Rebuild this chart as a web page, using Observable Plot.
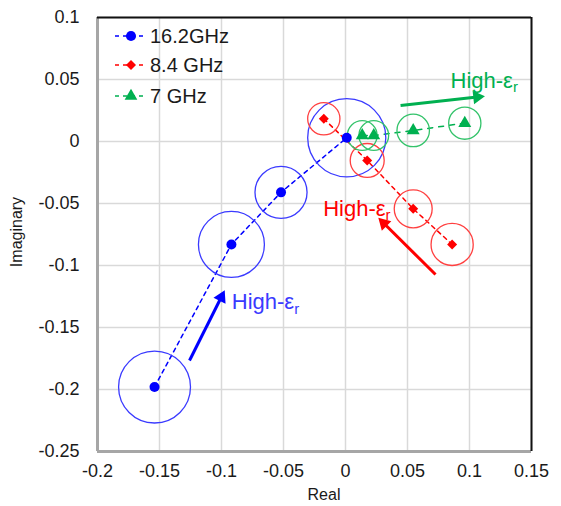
<!DOCTYPE html>
<html>
<head>
<meta charset="utf-8">
<script src="https://cdn.jsdelivr.net/npm/d3@7"></script>
<script src="https://cdn.jsdelivr.net/npm/@observablehq/plot@0.6"></script>
<style>
  body { margin: 0; background: #fff; }
  #chart { position: relative; width: 561px; height: 506px; }
</style>
</head>
<body>
<div id="chart"></div>
<script>
// ---- Data ----
const xTicks = [-0.2, -0.15, -0.1, -0.05, 0, 0.05, 0.1, 0.15];
const xTickLabels = ["-0.2", "-0.15", "-0.1", "-0.05", "0", "0.05", "0.1", "0.15"];
const yTicks = [0.1, 0.05, 0, -0.05, -0.1, -0.15, -0.2, -0.25];
const yTickLabels = ["0.1", "0.05", "0", "-0.05", "-0.1", "-0.15", "-0.2", "-0.25"];

const seriesNames = ["16.2GHz", "8.4 GHz", "7 GHz"];

const blueRe  = [-0.154, -0.092, -0.052, 0.001];
const blueIm  = [-0.198, -0.083, -0.041, 0.003];
const blueUnc = [0.029, 0.0266, 0.021, 0.0315];

const redRe  = [-0.0175, 0.0175, 0.0546, 0.086];
const redIm  = [0.0183, -0.0153, -0.0543, -0.083];
const redUnc = [0.013, 0.0137, 0.0153, 0.017];

const greenRe  = [0.0135, 0.0228, 0.0546, 0.0962];
const greenIm  = [0.0048, 0.0048, 0.0089, 0.0148];
const greenUnc = [0.012, 0.012, 0.0131, 0.013];

// annotation arrows (blue, red, green)
const arrowX1 = [-0.1258, 0.0726, 0.0444];
const arrowY1 = [-0.1766, -0.1073, 0.029];
const arrowX2 = [-0.1002, 0.0309, 0.1062];
const arrowY2 = [-0.1256, -0.0659, 0.0358];
const labelX  = [-0.0917, -0.018, 0.0847];
const labelY  = [-0.1296, -0.054, 0.0492];
const labelText = ["High-ε", "High-ε", "High-ε"];

// ---- Styles ----
const markerColors = ["#0000ff", "#ff0000", "#00b050"];
const circleColors = ["#3a3aff", "#ff4040", "#33c36a"];
const labelColors  = ["#3a3aff", "#ff0000", "#00b050"];

const mk = (re, im, unc) => re.map((x, i) => ({x, y: im[i], r: unc[i]}));
const blue = mk(blueRe, blueIm, blueUnc);
const red = mk(redRe, redIm, redUnc);
const green = mk(greenRe, greenIm, greenUnc);
const annots = arrowX1.map((x1, i) => ({
  x1, y1: arrowY1[i], x2: arrowX2[i], y2: arrowY2[i],
  // equal px-per-unit on both axes, so the data-space direction gives the head rotation
  rot: Math.atan2(-(arrowY2[i] - arrowY1[i]), arrowX2[i] - x1) * 180 / Math.PI + 90,
  lx: labelX[i], ly: labelY[i], t: labelText[i], c: markerColors[i], lc: labelColors[i]
}));

const fmt = (ticks, labels) => d => labels[ticks.findIndex(t => Math.abs(t - d) < 1e-9)];

const plot = Plot.plot({
  width: 561,
  height: 506,
  marginLeft: 97,
  marginRight: 30,
  marginTop: 17,
  marginBottom: 55,
  x: {domain: [-0.2, 0.15]},
  y: {domain: [-0.25, 0.1]},
  r: {type: "linear", domain: [0, 0.05], range: [0, 62]},
  style: {fontFamily: "'Liberation Sans', Arial, sans-serif", fontSize: "18px", color: "#1a1a1a", background: "#fff"},
  marks: [
    Plot.gridX(xTicks, {stroke: "#d9d9d9", strokeOpacity: 1, strokeWidth: 1.5}),
    Plot.gridY(yTicks, {stroke: "#d9d9d9", strokeOpacity: 1, strokeWidth: 1.5}),
    Plot.axisX(xTicks, {tickSize: 0, tickPadding: 13, tickFormat: fmt(xTicks, xTickLabels), label: null, fontSize: 18}),
    Plot.axisY(yTicks, {tickSize: 0, tickPadding: 18, tickFormat: fmt(yTicks, yTickLabels), label: null, fontSize: 18}),
    // frame
    Plot.ruleX([-0.2], {stroke: "#a6a6a6", strokeWidth: 3}),
    Plot.ruleY([-0.25], {stroke: "#a6a6a6", strokeWidth: 3}),
    Plot.ruleX([0.15], {stroke: "#111", strokeWidth: 2}),
    Plot.ruleY([0.1], {stroke: "#111", strokeWidth: 2}),
    // dashed connecting lines
    Plot.line(blue, {x: "x", y: "y", stroke: markerColors[0], strokeWidth: 1.5, strokeDasharray: "4,4"}),
    Plot.line(red, {x: "x", y: "y", stroke: markerColors[1], strokeWidth: 1.5, strokeDasharray: "4,4"}),
    Plot.line(green, {x: "x", y: "y", stroke: markerColors[2], strokeWidth: 1.5, strokeDasharray: "5,6"}),
    // uncertainty circles
    Plot.dot(blue, {x: "x", y: "y", r: "r", stroke: circleColors[0], fill: "none", strokeWidth: 1.3}),
    Plot.dot(red, {x: "x", y: "y", r: "r", stroke: circleColors[1], fill: "none", strokeWidth: 1.3}),
    Plot.dot(green, {x: "x", y: "y", r: "r", stroke: circleColors[2], fill: "none", strokeWidth: 1.3}),
    // markers
    Plot.dot(blue, {x: "x", y: "y", r: 5, symbol: "circle", fill: markerColors[0]}),
    Plot.dot(red, {x: "x", y: "y", r: 4, symbol: "square", rotate: 45, fill: markerColors[1]}),
    Plot.dot(green, {x: "x", y: "y", r: 4.8, symbol: "triangle", fill: markerColors[2]}),
    // annotations
    Plot.link(annots, {x1: "x1", y1: "y1", x2: "x2", y2: "y2", stroke: "c", strokeWidth: 3}),
    Plot.dot(annots, {x: "x2", y: "y2", symbol: "triangle", r: 5, rotate: "rot", fill: "c"}),
    Plot.text(annots, {x: "lx", y: "ly", text: "t", fill: "lc", textAnchor: "start", fontSize: 22})
  ]
});

const container = document.getElementById("chart");
container.appendChild(plot);

const svg = d3.select(plot);

// subscript r on annotation labels
svg.selectAll("text").filter(function() { return this.textContent === "High-ε"; })
  .append("tspan").attr("dy", "0.3em").attr("font-size", 15).text("r");

// axis titles
svg.append("text").attr("x", 324).attr("y", 500).attr("text-anchor", "middle")
  .attr("font-size", 16).attr("fill", "#1a1a1a").text("Real");
svg.append("text").attr("transform", "translate(22,232) rotate(-90)").attr("text-anchor", "middle")
  .attr("font-size", 16).attr("fill", "#1a1a1a").text("Imaginary");

// legend
const lg = svg.append("g").attr("text-anchor", "start");
const rowsY = [36, 65, 96];
seriesNames.forEach((name, i) => {
  const y = rowsY[i];
  lg.append("line").attr("x1", 115).attr("x2", 146).attr("y1", y).attr("y2", y)
    .attr("stroke", markerColors[i]).attr("stroke-width", 1.5).attr("stroke-dasharray", "4,4");
  const sym = i === 0 ? d3.symbol(d3.symbolCircle, 80)()
            : i === 1 ? d3.symbol(d3.symbolSquare, 50)()
            : d3.symbol(d3.symbolTriangle, 70)();
  lg.append("path").attr("d", sym)
    .attr("transform", `translate(131,${y})` + (i === 1 ? " rotate(45)" : ""))
    .attr("fill", markerColors[i]);
  lg.append("text").attr("x", 150).attr("y", y).attr("dy", "0.35em").attr("font-size", 20)
    .attr("fill", "#1a1a1a").text(name);
});
</script>
</body>
</html>
